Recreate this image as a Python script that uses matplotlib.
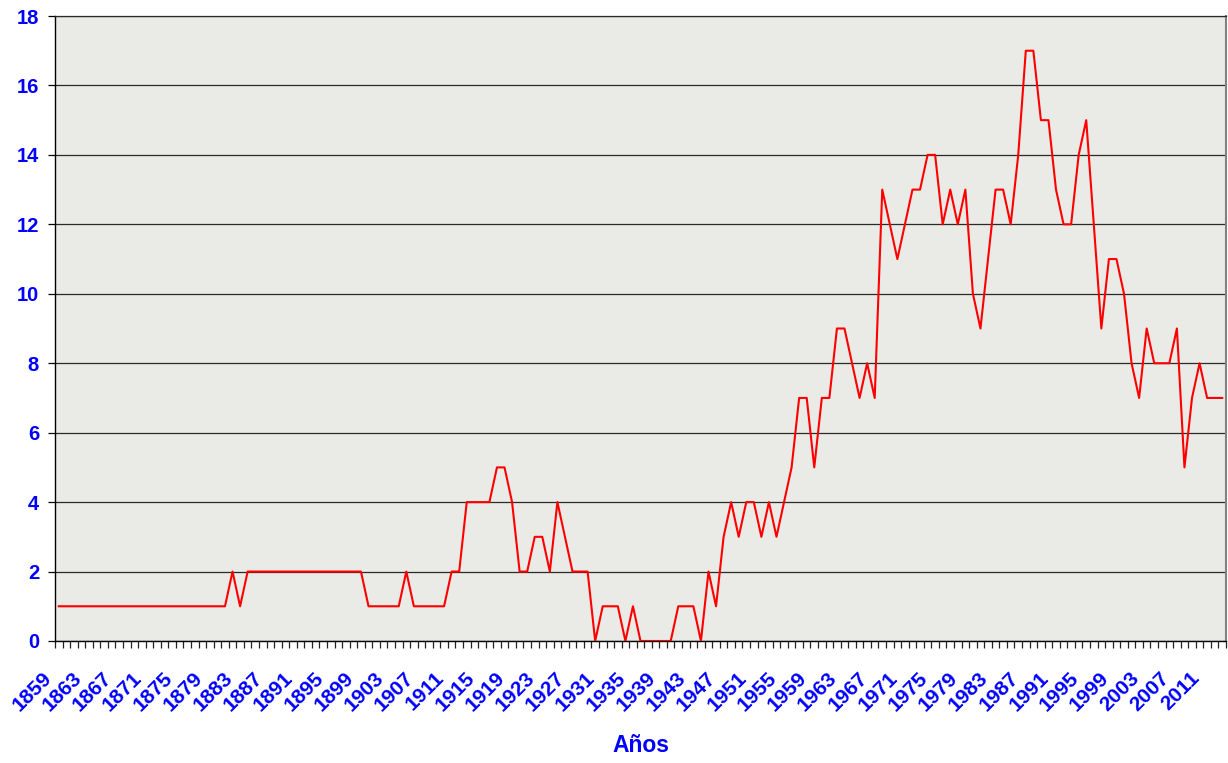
import matplotlib
matplotlib.use("Agg")
import matplotlib.pyplot as plt
from matplotlib.transforms import ScaledTranslation

# ---- data ----
years = list(range(1859, 2014))
values = (
    [1] * 23            # 1859-1881
    + [2, 1]            # 1882-1883
    + [2] * 16          # 1884-1899
    + [1] * 5           # 1900-1904
    + [2]               # 1905
    + [1] * 5           # 1906-1910
    + [2, 2]            # 1911-1912
    + [4, 4, 4, 4]      # 1913-1916
    + [5, 5, 4]         # 1917-1919
    + [2, 2, 3, 3, 2]   # 1920-1924
    + [4, 3, 2, 2, 2]   # 1925-1929
    + [0, 1, 1, 1, 0]   # 1930-1934
    + [1, 0, 0, 0, 0]   # 1935-1939
    + [0, 1, 1, 1, 0]   # 1940-1944
    + [2, 1, 3, 4, 3]   # 1945-1949
    + [4, 4, 3, 4, 3]   # 1950-1954
    + [4, 5, 7, 7, 5]   # 1955-1959
    + [7, 7, 9, 9, 8]   # 1960-1964
    + [7, 8, 7, 13, 12] # 1965-1969
    + [11, 12, 13, 13, 14]  # 1970-1974
    + [14, 12, 13, 12, 13]  # 1975-1979
    + [10, 9, 11, 13, 13]   # 1980-1984
    + [12, 14, 17, 17, 15]  # 1985-1989
    + [15, 13, 12, 12, 14]  # 1990-1994
    + [15, 12, 9, 11, 11]   # 1995-1999
    + [10, 8, 7, 9, 8]      # 2000-2004
    + [8, 8, 9, 5, 7]       # 2005-2009
    + [8, 7, 7, 7]          # 2010-2013
)
assert len(values) == len(years)
label_years = years[::4]
y_ticks = list(range(0, 19, 2))
x_title = "Años"

# ---- figure ----
W, H = 1228, 763
fig = plt.figure(figsize=(W / 100, H / 100), dpi=100)
fig.patch.set_facecolor("white")
L, R, T, B = 55, 1226, 16, 641
ax = fig.add_axes([L / W, 1 - B / H, (R - L) / W, (B - T) / H])
ax.set_facecolor("#EAEAE6")

pos = list(range(len(years)))
ax.plot(pos, values, color="#FF0000", lw=1.5, zorder=3)

ax.set_xlim(-0.5, len(years) - 0.5)
ax.set_ylim(0, 18)

# horizontal gridlines
ax.set_yticks(y_ticks)
ax.yaxis.grid(True, color="#2a2a2a", lw=0.9)
ax.set_axisbelow(True)

blue = "#0000FF"
font = dict(family=["Liberation Sans", "DejaVu Sans"], weight="bold")
ax.set_yticklabels([str(v) for v in y_ticks], color=blue, fontsize=14.5, **font)
ax.tick_params(axis="y", direction="out", length=5, width=0.9, color="black", pad=6.5)

# x ticks: minor ticks at category boundaries, labels every 4 categories
ax.set_xticks([i - 0.5 for i in range(len(years) + 1)], minor=True)
ax.tick_params(axis="x", which="minor", direction="out", length=5, width=0.9, color="#222222")
lab_pos = [years.index(y) for y in label_years]
ax.set_xticks(lab_pos)
ax.set_xticklabels([str(y) for y in label_years], color=blue, fontsize=15, **font)
ax.tick_params(axis="x", which="major", length=0, pad=0)
off = ScaledTranslation(-10.5 / 100, -34 / 100, fig.dpi_scale_trans)
for lab in ax.get_xticklabels():
    lab.set_rotation(45)
    lab.set_rotation_mode("anchor")
    lab.set_ha("right")
    lab.set_va("center")
    lab.set_transform(lab.get_transform() + off)

# spines
ax.spines["left"].set_color("black")
ax.spines["left"].set_linewidth(1.0)
ax.spines["bottom"].set_color("black")
ax.spines["bottom"].set_linewidth(1.0)
ax.spines["top"].set_color("#2a2a2a")
ax.spines["top"].set_linewidth(0.9)
ax.spines["right"].set_color("#808080")
ax.spines["right"].set_linewidth(1.5)

ax.set_xlabel(x_title, color=blue, fontsize=16.5, **font)
ax.xaxis.set_label_coords(0.5, (B - 745) / (B - T))
ax.xaxis.label.set_va("center")

fig.savefig("out.png", dpi=100)
